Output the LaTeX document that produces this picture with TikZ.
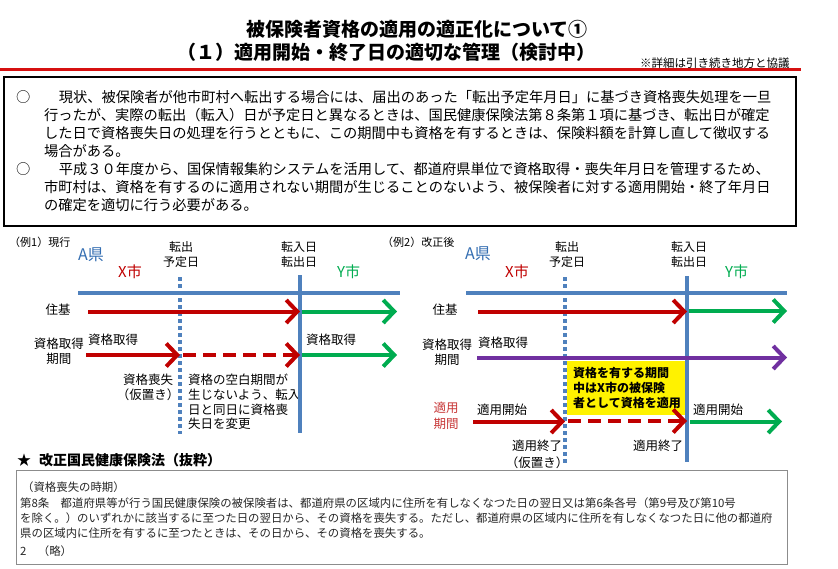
\documentclass[tikz,border=0pt]{standalone}
\usepackage{fontspec}
\setmainfont{Noto Sans CJK JP}
\usetikzlibrary{arrows.meta}
\definecolor{lineblue}{RGB}{79,129,189}
\definecolor{kenblue}{RGB}{52,110,178}
\definecolor{arrred}{RGB}{192,0,0}
\definecolor{arrgreen}{RGB}{0,172,80}
\definecolor{arrpurple}{RGB}{112,48,160}
\definecolor{tekired}{RGB}{200,55,55}
\definecolor{titlered}{RGB}{214,16,16}

\begin{document}
\begin{tikzpicture}[x=1pt,y=-1pt,
  every node/.style={inner sep=0pt},
  body/.style={font=\fontsize{14.25}{18}\selectfont,anchor=west},
  lbl/.style={font=\fontsize{12.5}{15}\selectfont,align=center},
  law/.style={font=\fontsize{11.4}{15}\selectfont,anchor=west,text=black!85},
  city/.style={font=\fontsize{15}{18}\selectfont,anchor=west},
  ken/.style={line width=4pt,lineblue},
  yotei/.style={line width=3.5pt,lineblue,dash pattern=on 3.5pt off 3.5pt},
  arr/.style={line width=4pt,-{Straight Barb[length=11pt,width=23pt]}},
  darr/.style={arr,dash pattern=on 13pt off 7pt}]
  \fill[white] (0,0) rectangle (838,568);
  \useasboundingbox (0,0) rectangle (838,568);

  \node[font=\fontsize{19}{22}\selectfont\bfseries] (title1) at (417,29) {被保険者資格の適用の適正化について①};
  \node[font=\fontsize{19}{22}\selectfont\bfseries] (title2) at (386,52) {（１）適用開始・終了日の適切な管理（検討中）};
  \node[font=\fontsize{11.5}{14}\selectfont,anchor=west] (kyogi) at (640,63) {※詳細は引き続き地方と協議};
  \draw[titlered,line width=3pt] (0,69.5) -- (801,69.5);

  \draw[line width=1.5pt] (4,77) rectangle (796,226);
  \node[body] (p1) at (16,97) {○　　現状、被保険者が他市町村へ転出する場合には、届出のあった「転出予定年月日」に基づき資格喪失処理を一旦};
  \node[body] (p2) at (44,115) {行ったが、実際の転出（転入）日が予定日と異なるときは、国民健康保険法第８条第１項に基づき、転出日が確定};
  \node[body] (p3) at (44,133) {した日で資格喪失日の処理を行うとともに、この期間中も資格を有するときは、保険料額を計算し直して徴収する};
  \node[body] (p4) at (44,151) {場合がある。};
  \node[body] (p5) at (16,169) {○　　平成３０年度から、国保情報集約システムを活用して、都道府県単位で資格取得・喪失年月日を管理するため、};
  \node[body] (p6) at (44,187) {市町村は、資格を有するのに適用されない期間が生じることのないよう、被保険者に対する適用開始・終了年月日};
  \node[body] (p7) at (44,205) {の確定を適切に行う必要がある。};

  \coordinate (L-ken-s) at (78,293);
  \coordinate (L-ken-e) at (400,293);
  \coordinate (L-yt-t) at (180,277);
  \coordinate (L-yt-b) at (180,434);
  \coordinate (L-tn-t) at (300,275);
  \coordinate (L-tn-b) at (300,433);
  \coordinate (L-jk-s) at (88,311.5);
  \coordinate (L-jk-m) at (300,311.5);
  \coordinate (L-jk-n) at (302,311.5);
  \coordinate (L-jk-e) at (397,311.5);
  \coordinate (L-sk-s) at (86,355);
  \coordinate (L-sk-a) at (180,355);
  \coordinate (L-sk-d) at (183,355);
  \coordinate (L-sk-m) at (300,355);
  \coordinate (L-sk-n) at (302,355);
  \coordinate (L-sk-e) at (397,355);

  \node[font=\fontsize{11}{13}\selectfont,anchor=west] (rei1) at (9,242) {（例1）現行};
  \node[city,font=\fontsize{16}{18}\selectfont,text=kenblue] (L-aken) at (78,255) {A県};
  \node[city,text=arrred] (L-xshi) at (118,272) {X市};
  \node[city,text=arrgreen] (L-yshi) at (337,272) {Y市};
  \node[lbl,font=\fontsize{12}{15}\selectfont] (L-yotei) at (181,254.5) {転出\\予定日};
  \node[lbl,font=\fontsize{12}{15}\selectfont] (L-tennyu) at (299,254.5) {転入日\\転出日};
  \node[lbl] (L-juki) at (58,310) {住基};
  \node[lbl] (L-kikan) at (59,351.5) {資格取得\\期間};
  \node[lbl,anchor=west] (L-shutoku) at (88,340) {資格取得};
  \node[lbl,anchor=west] (L-shutoku2) at (306,340) {資格取得};
  \node[lbl] (L-soshitsu) at (148,387.5) {資格喪失\\（仮置き）};
  \node[lbl,align=left,anchor=west,font=\fontsize{12.5}{14.7}\selectfont] (L-kuhaku) at (188,402) {資格の空白期間が\\生じないよう、転入\\日と同日に資格喪\\失日を変更};

  \draw[ken] (L-ken-s) -- (L-ken-e);
  \draw[ken] (L-tn-t) -- (L-tn-b);
  \draw[yotei] (L-yt-t) -- (L-yt-b);
  \draw[arr,arrred] (L-jk-s) -- (L-jk-m);
  \draw[arr,arrgreen] (L-jk-n) -- (L-jk-e);
  \draw[arr,arrred] (L-sk-s) -- (L-sk-a);
  \draw[darr,arrred] (L-sk-d) -- (L-sk-m);
  \draw[arr,arrgreen] (L-sk-n) -- (L-sk-e);

  \coordinate (R-ken-s) at (466,293);
  \coordinate (R-ken-e) at (787,293);
  \coordinate (R-yt-t) at (565,277);
  \coordinate (R-yt-b) at (565,464);
  \coordinate (R-tn-t) at (687,276);
  \coordinate (R-tn-b) at (687,462);
  \coordinate (R-jk-s) at (478,311.5);
  \coordinate (R-jk-m) at (687,311.5);
  \coordinate (R-jk-n) at (689,311);
  \coordinate (R-jk-e) at (787,311);
  \coordinate (R-sk-s) at (477,357.5);
  \coordinate (R-sk-e) at (787,357.5);
  \coordinate (R-tk-s) at (473,421.5);
  \coordinate (R-tk-a) at (565,421.5);
  \coordinate (R-tk-d) at (568,421);
  \coordinate (R-tk-m) at (687,421);
  \coordinate (R-tk-n) at (690,421.5);
  \coordinate (R-tk-e) at (782,421.5);

  \fill[yellow] (567,361) rectangle (685,415);
  \node[lbl,align=left,anchor=west,font=\fontsize{12}{15}\selectfont\bfseries] (R-yusuru) at (573,388) {資格を有する期間\\中はX市の被保険\\者として資格を適用};

  \node[font=\fontsize{11}{13}\selectfont,anchor=west] (rei2) at (382,242) {（例2）改正後};
  \node[city,font=\fontsize{16}{18}\selectfont,text=kenblue] (R-aken) at (465,254) {A県};
  \node[city,text=arrred] (R-xshi) at (505,272) {X市};
  \node[city,text=arrgreen] (R-yshi) at (725,272) {Y市};
  \node[lbl,font=\fontsize{12}{15}\selectfont] (R-yotei) at (567,254.5) {転出\\予定日};
  \node[lbl,font=\fontsize{12}{15}\selectfont] (R-tennyu) at (689,254.5) {転入日\\転出日};
  \node[lbl] (R-juki) at (445,310) {住基};
  \node[lbl] (R-kikan) at (447,352.5) {資格取得\\期間};
  \node[lbl,anchor=west] (R-shutoku) at (478,343) {資格取得};
  \node[lbl,text=tekired,font=\fontsize{12.5}{16}\selectfont] (R-tekiyo) at (446,416) {適用\\期間};
  \node[lbl,anchor=west] (R-kaishi) at (477,410) {適用開始};
  \node[lbl,anchor=west] (R-kaishi2) at (693,410) {適用開始};
  \node[lbl,font=\fontsize{12.5}{17}\selectfont] (R-shuryo) at (537,454.5) {適用終了\\（仮置き）};
  \node[lbl] (R-shuryo2) at (658,446) {適用終了};

  \draw[ken] (R-ken-s) -- (R-ken-e);
  \draw[ken] (R-tn-t) -- (R-tn-b);
  \draw[yotei] (R-yt-t) -- (R-yt-b);
  \draw[arr,arrred] (R-jk-s) -- (R-jk-m);
  \draw[arr,arrgreen] (R-jk-n) -- (R-jk-e);
  \draw[arr,arrpurple] (R-sk-s) -- (R-sk-e);
  \draw[arr,arrred] (R-tk-s) -- (R-tk-a);
  \draw[darr,arrred] (R-tk-d) -- (R-tk-m);
  \draw[arr,arrgreen] (R-tk-n) -- (R-tk-e);

  \node[font=\fontsize{14}{16}\selectfont\bfseries,anchor=west] (kaisei) at (17,460) {★\hspace{8pt}改正国民健康保険法（抜粋）};
  \draw[black!45,line width=0.8pt] (16,470) rectangle (787,564);
  \node[law] (law0) at (22,487) {（資格喪失の時期）};
  \node[law] (law1) at (20,503) {第8条　都道府県等が行う国民健康保険の被保険者は、都道府県の区域内に住所を有しなくなつた日の翌日又は第6条各号（第9号及び第10号};
  \node[law] (law2) at (20,518) {を除く。）のいずれかに該当するに至つた日の翌日から、その資格を喪失する。ただし、都道府県の区域内に住所を有しなくなつた日に他の都道府};
  \node[law] (law3) at (20,533) {県の区域内に住所を有するに至つたときは、その日から、その資格を喪失する。};
  \node[law] (law4) at (20,551) {2　（略）};
\end{tikzpicture}
\end{document}
